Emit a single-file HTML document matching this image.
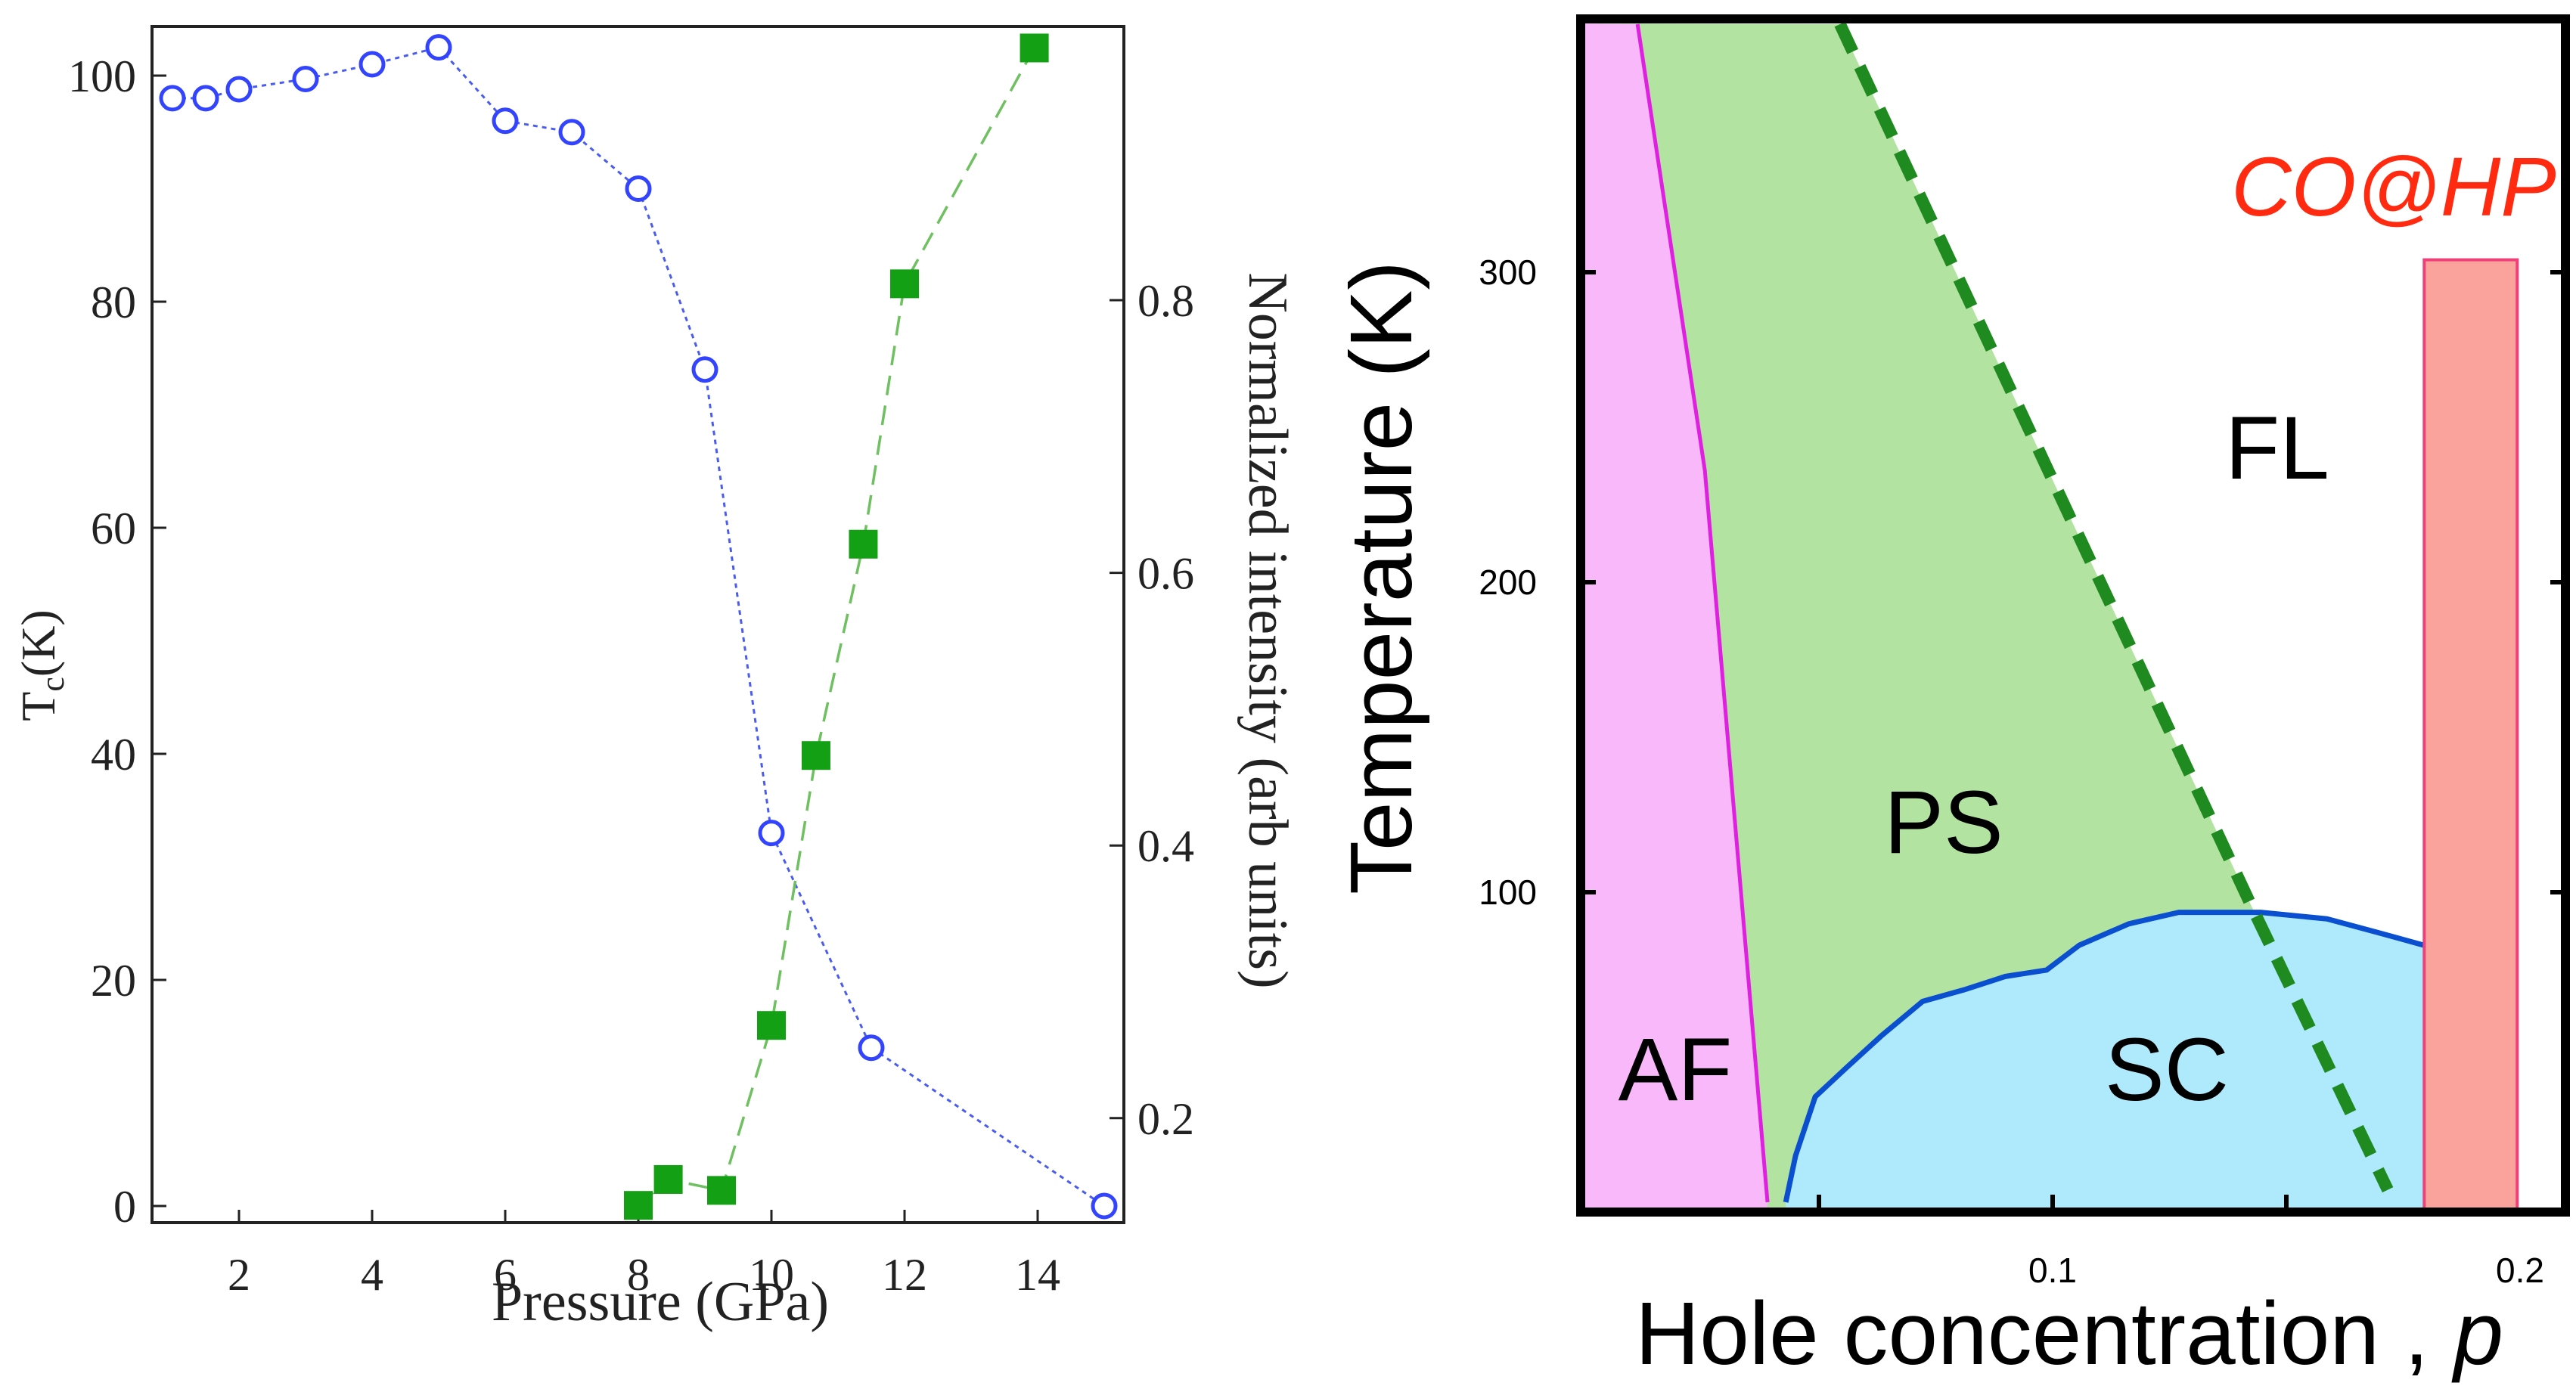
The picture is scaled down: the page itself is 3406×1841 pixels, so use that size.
<!DOCTYPE html>
<html><head><meta charset="utf-8"><style>
html,body{margin:0;padding:0;background:#fff;}
svg{display:block;}
</style></head><body>
<svg id="chart" width="3406" height="1841" viewBox="0 0 3406 1841" xmlns="http://www.w3.org/2000/svg">
<g id="left"></g>
<g id="right"></g>
</svg>
<script>
// ---- Left chart data ----
const tcPressure = [1, 1.5, 2, 3, 4, 5, 6, 7, 8, 9, 10, 11.5, 15];
const tcValues = [98, 98, 98.8, 99.7, 101, 102.5, 96, 95, 90, 74, 33, 14, 0];
const intPressure = [8, 8.45, 9.25, 10, 10.67, 11.38, 12, 13.95];
const intValues = [0.136, 0.155, 0.147, 0.268, 0.466, 0.621, 0.812, 0.985];
const xTicks = [2, 4, 6, 8, 10, 12, 14];
const yLeftTicks = [0, 20, 40, 60, 80, 100];
const yRightTicks = [0.2, 0.4, 0.6, 0.8];

// ---- Right chart data ----
const afBoundaryP = [0.0112, 0.0256, 0.039];
const afBoundaryT = [380, 236, 0];
const psLineP = [0.0545, 0.1427, 0.1717];
const psLineT = [380, 95, 4];
const scDomeP = [0.0429, 0.045, 0.0492, 0.0556, 0.0633, 0.0722, 0.081, 0.0898, 0.0987, 0.1057, 0.1163, 0.127, 0.1445, 0.1587, 0.1693, 0.1792, 0.2, 0.2];
const scDomeT = [0, 15, 34, 43, 53.6, 64.8, 68.5, 72.8, 74.9, 82.9, 89.8, 93.5, 93.5, 91.4, 87.1, 83, 69.5, 0];
const barP = [0.1795, 0.1994];
const barTop = 304;
const tTicks = [100, 200, 300];
const pTicks = [0.1, 0.2];
const pMinorTicks = [0.05, 0.1, 0.15];

const NS = "http://www.w3.org/2000/svg";
function mk(parent, tag, attrs, text){
  const e = document.createElementNS(NS, tag);
  for (const k in attrs) e.setAttribute(k, attrs[k]);
  if (text !== undefined) e.textContent = text;
  parent.appendChild(e);
  return e;
}

// ===== Left chart =====
const L = document.getElementById('left');
const xP = p => 316 + (p - 2) * 88;
const yTc = t => 1595 - t * 14.95;
const yInt = v => 397 + (0.8 - v) * 1803;
const serif = '"Liberation Serif", serif';

let fr = mk(L, 'rect', {x:201, y:35, width:1285, height:1582, fill:'none', stroke:'#222', 'stroke-width':4});



xTicks.forEach(v => {
  const x = xP(v);
  let t = mk(L, 'line', {x1:x, y1:1617, x2:x, y2:1600, stroke:'#222', 'stroke-width':3});
  
  
  let lb = mk(L, 'text', {x:x, y:1706, 'text-anchor':'middle', 'font-family':serif, 'font-size':60, fill:'#222'}, String(v));
  
  
});
yLeftTicks.forEach(v => {
  const y = yTc(v);
  let t = mk(L, 'line', {x1:201, y1:y, x2:220, y2:y, stroke:'#222', 'stroke-width':3});
  
  
  let lb = mk(L, 'text', {x:180, y:y + 21, 'text-anchor':'end', 'font-family':serif, 'font-size':60, fill:'#222'}, String(v));
  
  
});
yRightTicks.forEach(v => {
  const y = yInt(v);
  let t = mk(L, 'line', {x1:1486, y1:y, x2:1467, y2:y, stroke:'#222', 'stroke-width':3});
  
  
  let lb = mk(L, 'text', {x:1504, y:y + 21, 'font-family':serif, 'font-size':60, fill:'#222'}, v.toFixed(1));
  
  
});

let xt = mk(L, 'text', {x:873, y:1746, 'text-anchor':'middle', 'font-family':serif, 'font-size':74, fill:'#222'}, 'Pressure (GPa)');


let yt = mk(L, 'text', {transform:'translate(72,880) rotate(-90)', 'text-anchor':'middle', 'font-family':serif, 'font-size':64, fill:'#222'});


mk(yt, 'tspan', {}, 'T');
mk(yt, 'tspan', {dy:12, 'font-size':44}, 'c');
mk(yt, 'tspan', {dy:-12}, '(K)');
let yr = mk(L, 'text', {transform:'translate(1652,834) rotate(90)', 'text-anchor':'middle', 'font-family':serif, 'font-size':74, fill:'#222'}, 'Normalized intensity (arb units)');



let tcLine = mk(L, 'polyline', {points: tcPressure.map((p,i)=>xP(p)+','+yTc(tcValues[i])).join(' '), fill:'none', stroke:'#4a5cf0', 'stroke-width':3, 'stroke-dasharray':'6 6'});


let intLine = mk(L, 'polyline', {points: intPressure.map((p,i)=>xP(p)+','+yInt(intValues[i])).join(' '), fill:'none', stroke:'#6fc060', 'stroke-width':3.5, 'stroke-dasharray':'26 14'});


tcPressure.forEach((p,i) => {
  let c = mk(L, 'circle', {cx:xP(p), cy:yTc(tcValues[i]), r:15, fill:'#fff', stroke:'#3344ff', 'stroke-width':5});
  
  
});
intPressure.forEach((p,i) => {
  let r = mk(L, 'rect', {x:xP(p)-19, y:yInt(intValues[i])-19, width:38, height:38, fill:'#14a014'});
  
  
});

// ===== Right chart =====
const R = document.getElementById('right');
const X0 = 2096, X1 = 3386, Y0 = 31, Yb = 1600;
const xp = p => 2096 + p * 6180;
const yT = t => 1590 - t * 4.1;
const sans = '"Liberation Sans", "DejaVu Sans", sans-serif';
const clip = mk(R, 'clipPath', {id:'rc'});
mk(clip, 'rect', {x:X0, y:Y0, width:X1-X0, height:Yb-Y0});
const g = mk(R, 'g', {'clip-path':'url(#rc)'});

const psPts = [[X0,Y0]].concat(psLineP.map((p,i)=>[xp(p), yT(psLineT[i])])).concat([[xp(psLineP[2]), Yb],[X0,Yb]]);
let ps = mk(g, 'polygon', {points: psPts.map(a=>a.join(',')).join(' '), fill:'#b3e3a1'});


const afPts = [[X0,Y0]].concat(afBoundaryP.map((p,i)=>[xp(p), yT(afBoundaryT[i])])).concat([[xp(afBoundaryP[2]), Yb],[X0,Yb]]);
let af = mk(g, 'polygon', {points: afPts.map(a=>a.join(',')).join(' '), fill:'#f9b8fa'});


let afl = mk(g, 'polyline', {points: afBoundaryP.map((p,i)=>xp(p)+','+yT(afBoundaryT[i])).join(' '), fill:'none', stroke:'#e020e0', 'stroke-width':5});


const nD = scDomeP.length;
let sc = mk(g, 'polygon', {points: scDomeP.map((p,i)=>xp(p)+','+yT(scDomeT[i])).join(' ')+' '+xp(scDomeP[nD-1])+','+Yb+' '+xp(scDomeP[0])+','+Yb, fill:'#aeeafc'});


let scl = mk(g, 'polyline', {points: scDomeP.map((p,i)=>xp(p)+','+yT(scDomeT[i])).join(' '), fill:'none', stroke:'#0a4fd0', 'stroke-width':7, 'stroke-linejoin':'round'});


let psl = mk(g, 'polyline', {points: psLineP.map((p,i)=>xp(p)+','+yT(psLineT[i])).join(' '), fill:'none', stroke:'#1f8a1f', 'stroke-width':16, 'stroke-dasharray':'40 22'});


let wr = mk(g, 'rect', {x:xp(barP[1]), y:Y0, width:X1-xp(barP[1]), height:Yb-Y0, fill:'#fff'});


let bar = mk(g, 'rect', {x:xp(barP[0]), y:yT(barTop), width:xp(barP[1])-xp(barP[0]), height:Yb-yT(barTop), fill:'#f9a39c', stroke:'#f0407a', 'stroke-width':4});



let rf = mk(R, 'rect', {x:2090, y:25, width:1302, height:1578, fill:'none', stroke:'#000', 'stroke-width':12});



tTicks.forEach(v => {
  const y = yT(v);
  let t1 = mk(R, 'line', {x1:2096, y1:y, x2:2110, y2:y, stroke:'#000', 'stroke-width':6});
  
  
  let t2 = mk(R, 'line', {x1:3386, y1:y, x2:3372, y2:y, stroke:'#000', 'stroke-width':6});
  
  
  let lb = mk(R, 'text', {x:2032, y:y + 16, 'text-anchor':'end', 'font-family':sans, 'font-size':46, fill:'#000'}, String(v));
  
  
});
pMinorTicks.forEach(v => {
  let t = mk(R, 'line', {x1:xp(v), y1:1597, x2:xp(v), y2:1580, stroke:'#000', 'stroke-width':6});
  
  
});
pTicks.forEach(v => {
  let lb = mk(R, 'text', {x:xp(v), y:1696, 'text-anchor':'middle', 'font-family':sans, 'font-size':46, fill:'#000'}, String(v));
  
  
});

let rxt = mk(R, 'text', {x:2736, y:1804, 'text-anchor':'middle', 'font-family':sans, 'font-size':118, fill:'#000'});


mk(rxt, 'tspan', {}, 'Hole concentration , ');
mk(rxt, 'tspan', {'font-style':'italic'}, 'p');
let ryt = mk(R, 'text', {transform:'translate(1866,764) rotate(-90)', 'text-anchor':'middle', 'font-family':sans, 'font-size':116, fill:'#000'}, 'Temperature (K)');



const labels = [['FL',3011,633,'fl-label'],['PS',2570,1128,'ps-label'],['AF',2215,1455,'af-label'],['SC',2865,1455,'sc-label']];
labels.forEach(l => {
  let t = mk(R, 'text', {x:l[1], y:l[2], 'text-anchor':'middle', 'font-family':sans, 'font-size':118, fill:'#000'}, l[0]);
  
  
});
let co = mk(R, 'text', {x:3165, y:285, 'text-anchor':'middle', 'font-family':sans, 'font-size':110, 'font-style':'italic', fill:'#ff2a10'}, 'CO@HP');


</script>
</body></html>
